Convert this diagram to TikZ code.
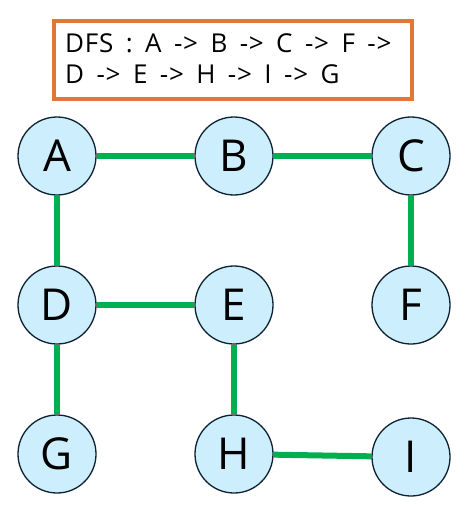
\documentclass[tikz,border=0pt]{standalone}
\usepackage{fontspec}
\setmainfont{Open Sans}
\newfontfamily\ordertext[LetterSpace=3,WordSpace=1.65]{Open Sans}
\begin{document}
\begin{tikzpicture}[x=1pt,y=-1pt,
  vertex/.style={circle,draw=vline,line width=1.3pt,fill=vfill,minimum size=78pt,inner sep=0pt,font=\fontsize{44}{44}\selectfont},
  tree/.style={draw=treegreen,line width=6pt},
  orderbox/.style={draw=boxorange,line width=4pt,fill=white,minimum width=358pt,minimum height=78pt,inner sep=0pt},
  ordertxt/.style={anchor=base west,inner sep=0pt,font=\ordertext\fontsize{26}{26}\selectfont}]
\definecolor{vfill}{HTML}{CDEEFC}
\definecolor{vline}{HTML}{0E2233}
\definecolor{treegreen}{HTML}{00B050}
\definecolor{boxorange}{HTML}{E2773A}
\useasboundingbox (0,0) rectangle (467,508);
\fill[white] (0,0) rectangle (467,508);
% traversal order box
\node[orderbox] (order) at (233,60) {};
\node[ordertxt] (l1) at (65,53) {DFS : A -> B -> C -> F ->};
\node[ordertxt] (l2) at (65,84) {D -> E -> H -> I -> G};
% vertices
\node[vertex] (A) at (57,156) {A};
\node[vertex] (B) at (234,156) {B};
\node[vertex] (C) at (411,156) {C};
\node[vertex] (D) at (57,305) {D};
\node[vertex] (E) at (234,305) {E};
\node[vertex] (F) at (411,305) {F};
\node[vertex] (G) at (57,454) {G};
\node[vertex] (H) at (234,454) {H};
\node[vertex] (I) at (411,457) {I};
% DFS tree edges
\draw[tree] (A) -- (B);
\draw[tree] (B) -- (C);
\draw[tree] (A) -- (D);
\draw[tree] (C) -- (F);
\draw[tree] (D) -- (E);
\draw[tree] (E) -- (H);
\draw[tree] (D) -- (G);
\draw[tree] (H) -- (I);
\end{tikzpicture}
\end{document}
